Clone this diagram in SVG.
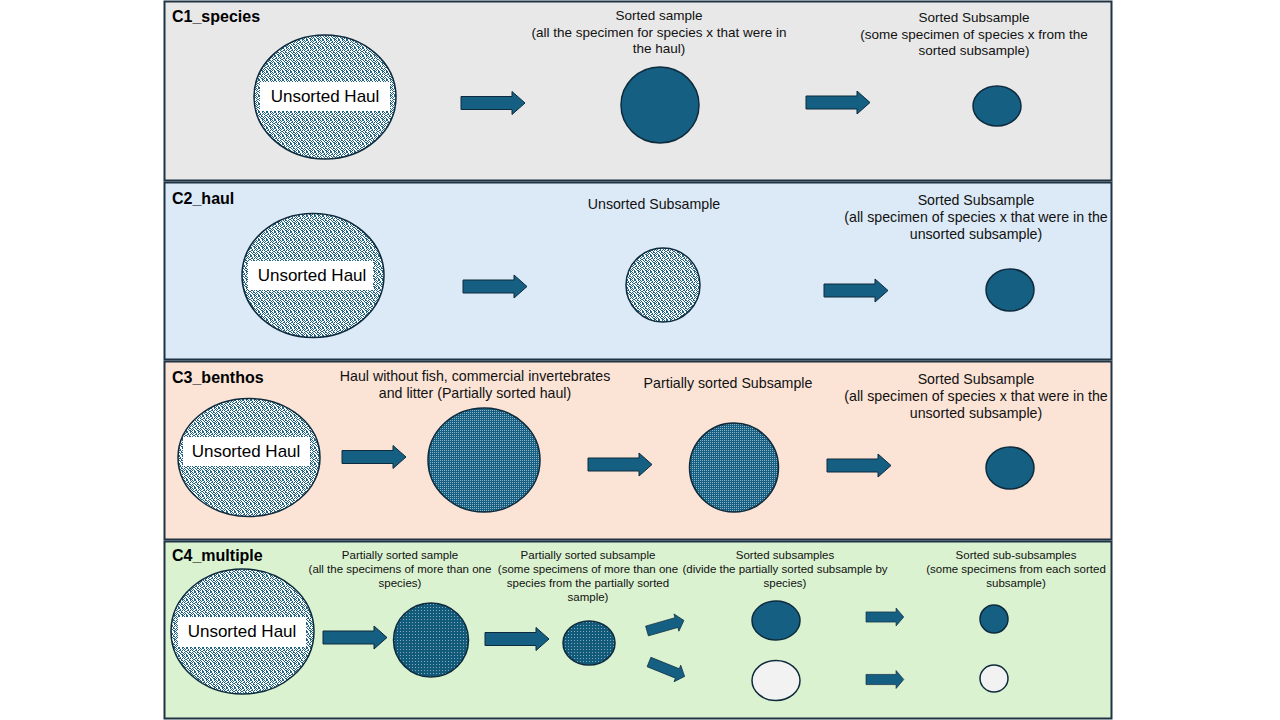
<svg xmlns="http://www.w3.org/2000/svg" width="1280" height="720" viewBox="0 0 1280 720">
<defs>
<style>
.panel{stroke:#1f3344;stroke-width:2}
.title{font-family:"Liberation Sans",Arial,sans-serif;font-weight:bold;font-size:16px;fill:#000}
.lbl{font-family:"Liberation Sans",Arial,sans-serif;font-size:13.5px;fill:#111;text-anchor:middle}
.lbl2{font-family:"Liberation Sans",Arial,sans-serif;font-size:14.2px;fill:#111;text-anchor:middle}
.lbl4{font-family:"Liberation Sans",Arial,sans-serif;font-size:11.5px;fill:#111;text-anchor:middle}
.haultxt{font-family:"Liberation Sans",Arial,sans-serif;font-size:17px;fill:#000;text-anchor:middle}
.shape{stroke:#0e2a3d;stroke-width:1.5}
.dark{fill:#156082}
.white{fill:#f2f2f2}
.unsorted{fill:url(#pUnsorted)}
.partial{fill:url(#pPartial)}
.partial4{fill:url(#pPartial4)}
.arrow{fill:#156082;stroke:#0e2a3d;stroke-width:1;vector-effect:non-scaling-stroke}
</style>
<pattern id="pUnsorted" x="0" y="0" width="8" height="8" patternUnits="userSpaceOnUse">
<rect width="8" height="8" fill="#ffffff"/>
<path fill="#1f6281" d="M0 0h1v1h-1z M2 0h2v1h-2z M6 0h1v1h-1z M1 1h1v1h-1z M4 1h1v1h-1z M7 1h1v1h-1z M0 2h1v1h-1z M3 2h2v1h-2z M6 2h1v1h-1z M1 3h2v1h-2z M5 3h1v1h-1z M0 4h1v1h-1z M3 4h1v1h-1z M5 4h2v1h-2z M1 5h1v1h-1z M4 5h1v1h-1z M7 5h1v1h-1z M0 6h1v1h-1z M2 6h1v1h-1z M5 6h2v1h-2z M2 7h2v1h-2z M6 7h2v1h-2z"/>
</pattern>
<pattern id="pPartial" x="0" y="0" width="2" height="2" patternUnits="userSpaceOnUse">
<rect width="2" height="2" fill="#156082"/>
<rect x="0" y="0" width="1" height="1" fill="#8fb3c4"/>
</pattern>
<pattern id="pPartial4" x="0" y="0" width="3" height="3" patternUnits="userSpaceOnUse">
<rect width="3" height="3" fill="#125a7a"/>
<rect x="1" y="1" width="1" height="1" fill="#86aabb"/>
</pattern>
<path id="arr" d="M0,-6.5 L51,-6.5 L51,-11.5 L64,0 L51,11.5 L51,6.5 L0,6.5 Z"/>
</defs>

<!-- Panels -->
<g id="panel-c1">
<rect class="panel" x="164.5" y="1.5" width="947" height="179" fill="#e8e8e8"/>
<text class="title" x="172" y="22">C1_species</text>
</g>
<g id="panel-c2">
<rect class="panel" x="164.5" y="182.5" width="947" height="177" fill="#dce9f6"/>
<text class="title" x="172" y="204">C2_haul</text>
</g>
<g id="panel-c3">
<rect class="panel" x="164.5" y="361.5" width="947" height="178" fill="#fbe3d6"/>
<text class="title" x="172" y="383">C3_benthos</text>
</g>
<g id="panel-c4">
<rect class="panel" x="164.5" y="541.5" width="947" height="177" fill="#daf2d0"/>
<text class="title" x="172" y="561">C4_multiple</text>
</g>

<!-- C1 nodes -->
<g id="c1-haul">
<ellipse class="shape unsorted" cx="325" cy="97" rx="71" ry="62"/>
<rect x="260" y="82" width="130" height="29" fill="#ffffff"/>
<text class="haultxt" x="325" y="102">Unsorted Haul</text>
</g>
<g id="c1-sorted-sample">
<ellipse class="shape dark" cx="660" cy="105" rx="39" ry="38"/>
<text class="lbl" x="659" y="20">Sorted sample</text>
<text class="lbl" x="659" y="37">(all the specimen for species x that were in</text>
<text class="lbl" x="659" y="53">the haul)</text>
</g>
<g id="c1-sorted-subsample">
<ellipse class="shape dark" cx="997" cy="106" rx="24" ry="20"/>
<text class="lbl" x="974" y="22">Sorted Subsample</text>
<text class="lbl" x="974" y="39">(some specimen of species x from the</text>
<text class="lbl" x="974" y="55">sorted subsample)</text>
</g>

<!-- C2 nodes -->
<g id="c2-haul">
<ellipse class="shape unsorted" cx="313" cy="275.5" rx="71" ry="62"/>
<rect x="248" y="261" width="125" height="29" fill="#ffffff"/>
<text class="haultxt" x="312" y="281">Unsorted Haul</text>
</g>
<g id="c2-unsorted-subsample">
<ellipse class="shape unsorted" cx="663" cy="285" rx="37" ry="37"/>
<text class="lbl2" x="654" y="209">Unsorted Subsample</text>
</g>
<g id="c2-sorted-subsample">
<ellipse class="shape dark" cx="1010" cy="290" rx="24" ry="21"/>
<text class="lbl2" x="976" y="205">Sorted Subsample</text>
<text class="lbl2" x="976" y="222">(all specimen of species x that were in the</text>
<text class="lbl2" x="976" y="239">unsorted subsample)</text>
</g>

<!-- C3 nodes -->
<g id="c3-haul">
<ellipse class="shape unsorted" cx="249" cy="457.5" rx="71" ry="59"/>
<rect x="183" y="437" width="127" height="29" fill="#ffffff"/>
<text class="haultxt" x="246" y="457">Unsorted Haul</text>
</g>
<g id="c3-partial-haul">
<ellipse class="shape partial" cx="484" cy="460" rx="56" ry="52"/>
<text class="lbl2" x="475" y="381">Haul without fish, commercial invertebrates</text>
<text class="lbl2" x="475" y="398">and litter (Partially sorted haul)</text>
</g>
<g id="c3-partial-subsample">
<ellipse class="shape partial" cx="734" cy="467.5" rx="44.5" ry="44.5"/>
<text class="lbl2" x="728" y="388">Partially sorted Subsample</text>
</g>
<g id="c3-sorted-subsample">
<ellipse class="shape dark" cx="1010" cy="468" rx="24" ry="21"/>
<text class="lbl2" x="976" y="384">Sorted Subsample</text>
<text class="lbl2" x="976" y="401">(all specimen of species x that were in the</text>
<text class="lbl2" x="976" y="418">unsorted subsample)</text>
</g>

<!-- C4 nodes -->
<g id="c4-haul">
<ellipse class="shape unsorted" cx="242.5" cy="631.5" rx="71.5" ry="62.5"/>
<rect x="178" y="617" width="128" height="30" fill="#ffffff"/>
<text class="haultxt" x="242" y="637">Unsorted Haul</text>
</g>
<g id="c4-partial-sample">
<ellipse class="shape partial4" cx="431" cy="640" rx="37.5" ry="37"/>
<text class="lbl4" x="400" y="559">Partially sorted sample</text>
<text class="lbl4" x="400" y="573">(all the specimens of more than one</text>
<text class="lbl4" x="400" y="587">species)</text>
</g>
<g id="c4-partial-subsample">
<ellipse class="shape partial4" cx="589" cy="643" rx="26" ry="22"/>
<text class="lbl4" x="588" y="559">Partially sorted subsample</text>
<text class="lbl4" x="588" y="573">(some specimens of more than one</text>
<text class="lbl4" x="588" y="587">species from the partially sorted</text>
<text class="lbl4" x="588" y="601">sample)</text>
</g>
<g id="c4-sorted-subsamples">
<ellipse class="shape dark" cx="776" cy="620.5" rx="24" ry="19.5"/>
<ellipse class="shape white" cx="776" cy="680.5" rx="24" ry="20"/>
<text class="lbl4" x="785" y="559">Sorted subsamples</text>
<text class="lbl4" x="785" y="573">(divide the partially sorted subsample by</text>
<text class="lbl4" x="785" y="587">species)</text>
</g>
<g id="c4-sorted-subsubsamples">
<ellipse class="shape dark" cx="994" cy="619" rx="14" ry="14"/>
<ellipse class="shape white" cx="994" cy="678.5" rx="14" ry="13.5"/>
<text class="lbl4" x="1016" y="559">Sorted sub-subsamples</text>
<text class="lbl4" x="1016" y="573">(some specimens from each sorted</text>
<text class="lbl4" x="1016" y="587">subsample)</text>
</g>

<!-- Connectors -->
<g id="connectors">
<use href="#arr" class="arrow" transform="translate(461,103)"/>
<use href="#arr" class="arrow" transform="translate(806,102.5)"/>
<use href="#arr" class="arrow" transform="translate(463,286.5)"/>
<use href="#arr" class="arrow" transform="translate(824,290.5)"/>
<use href="#arr" class="arrow" transform="translate(342,457)"/>
<use href="#arr" class="arrow" transform="translate(588,464.5)"/>
<use href="#arr" class="arrow" transform="translate(827,465.5)"/>
<use href="#arr" class="arrow" transform="translate(323,637.5)"/>
<use href="#arr" class="arrow" transform="translate(485,639)"/>
<use href="#arr" class="arrow" transform="translate(647,631) rotate(-16) scale(0.6,0.78)"/>
<use href="#arr" class="arrow" transform="translate(649,662) rotate(22) scale(0.6,0.78)"/>
<use href="#arr" class="arrow" transform="translate(866,617) scale(0.59,0.78)"/>
<use href="#arr" class="arrow" transform="translate(866,679.5) scale(0.59,0.78)"/>
</g>
</svg>
